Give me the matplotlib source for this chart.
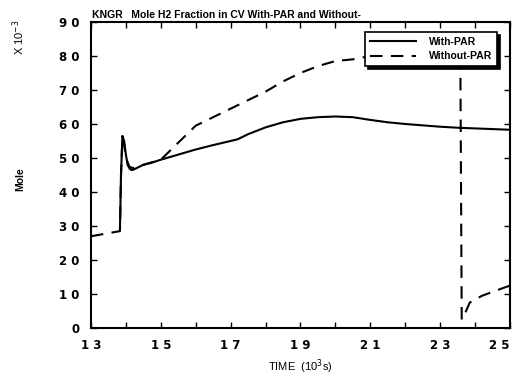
import matplotlib
matplotlib.use("Agg")
import matplotlib.pyplot as plt
from matplotlib.ticker import MultipleLocator

plt.rcParams["font.family"] = ["Liberation Sans", "DejaVu Sans"]

# Data (time in 10^3 s, mole fraction x10^-3)
with_x = [13.83, 13.86, 13.9, 13.95, 14.0, 14.05, 14.1, 14.15, 14.2, 14.3, 14.4, 14.5, 14.7,
          15.0, 15.5, 16.0, 16.5, 17.0, 17.2, 17.5, 18.0, 18.5, 19.0, 19.5, 20.0, 20.5,
          21.0, 21.5, 22.0, 22.5, 23.0, 23.5, 24.0, 24.5, 25.0]
with_y = [29, 45, 56.5, 55, 51, 48, 47, 46.5, 46.5, 47, 47.5, 48, 48.5,
          49.5, 51, 52.5, 53.8, 55, 55.5, 57, 59, 60.5, 61.5, 62, 62.2, 62,
          61.2, 60.5, 60, 59.6, 59.2, 58.9, 58.7, 58.5, 58.3]

without_x = [13.0, 13.83, 13.86, 13.9, 13.95, 14.0, 14.1, 14.2, 14.3, 14.5, 15.0, 15.5,
             16.0, 16.5, 17.0, 17.5, 18.0, 18.5, 19.0, 19.5, 20.0, 20.5, 21.0, 22.0,
             23.0, 23.58, 23.62, 23.7, 23.85, 24.2, 24.6, 25.0]
without_y = [27, 28.5, 45, 56, 54, 50, 47.5, 47, 47.5, 48, 49.5, 54.5,
             59.5, 62, 64.5, 67, 69.5, 72.5, 75, 77, 78.5, 79, 80, 81,
             81.5, 81.5, 2.5, 4, 7.5, 9.5, 11, 12.5]

xticks = [13, 15, 17, 19, 21, 23, 25]
xticklabels = ["1 3", "1 5", "1 7", "1 9", "2 1", "2 3", "2 5"]
yticks = [0, 10, 20, 30, 40, 50, 60, 70, 80, 90]
yticklabels = ["0", "1 0", "2 0", "3 0", "4 0", "5 0", "6 0", "7 0", "8 0", "9 0"]

fig = plt.figure(figsize=(5.14, 3.78), dpi=100)
ax = fig.add_axes([0.177, 0.132, 0.815, 0.81])

ax.plot(with_x, with_y, color="black", lw=1.5, label="With-PAR")
ax.plot(without_x, without_y, color="black", lw=1.5, dashes=(6, 4), label="Without-PAR")

ax.set_xlim(13, 25)
ax.set_ylim(0, 90)
ax.set_xticks(xticks)
ax.set_xticklabels(xticklabels, fontsize=8.5, fontweight="bold",
                   family=["DejaVu Sans"])
ax.xaxis.set_minor_locator(MultipleLocator(1))
ax.set_yticks(yticks)
ax.set_yticklabels(yticklabels, fontsize=8.5, fontweight="bold",
                   family=["DejaVu Sans"])
ax.tick_params(which="both", direction="in", top=True, right=True, length=4, width=1)
ax.tick_params(axis="x", pad=8)
ax.tick_params(axis="y", pad=8)
ax.get_xticklabels()[-1].set_horizontalalignment("right")
for s in ax.spines.values():
    s.set_linewidth(1.5)

ax.set_xlabel(r"TIME  (10$^3$s)", fontsize=8)
fig.text(0.039, 0.527, "Mole", rotation=90, fontsize=7.5, fontweight="bold", va="center", ha="center")
fig.text(0.037, 0.902, r"X 10$^{-3}$", rotation=90, fontsize=8, va="center", ha="center")
fig.text(0.179, 0.96, "KNGR   Mole H2 Fraction in CV With-PAR and Without-",
         fontsize=7.5, fontweight="bold", va="center", ha="left")

leg = ax.legend(loc="upper right", bbox_to_anchor=(0.969, 0.967), borderaxespad=0,
                fancybox=False, edgecolor="black", framealpha=1,
                shadow={"color": "black", "alpha": 1}, prop={"size": 7.5, "weight": "bold"},
                handlelength=4.5, borderpad=0.45, labelspacing=0.45, handletextpad=1.2)
leg.get_frame().set_linewidth(1.2)

fig.savefig("out.png", dpi=100)
